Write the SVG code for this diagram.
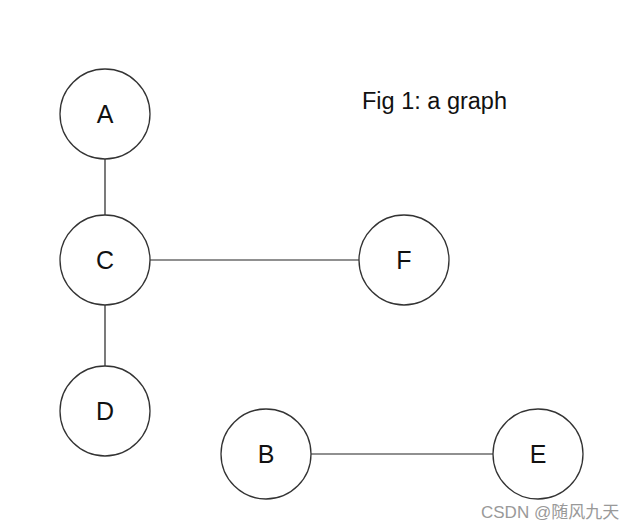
<svg xmlns="http://www.w3.org/2000/svg" width="632" height="530" viewBox="0 0 632 530">
<style>
.n circle{fill:#fff;stroke:#333;stroke-width:1.3}
.n text{font-family:"Liberation Sans",Arial,sans-serif;font-size:25px;fill:#111;text-anchor:middle}
.e line{stroke:#222;stroke-width:1.2}
</style>
<rect width="632" height="530" fill="#fff"/>
<g id="edges" class="e">
<line x1="105" y1="159" x2="105" y2="215"/>
<line x1="150" y1="260" x2="359" y2="260"/>
<line x1="105" y1="305" x2="105" y2="366"/>
<line x1="311" y1="454" x2="493" y2="454"/>
</g>
<g id="A" class="n"><circle cx="105" cy="114" r="45"/><text x="105" y="123">A</text></g>
<g id="C" class="n"><circle cx="105" cy="260" r="45"/><text x="105" y="269">C</text></g>
<g id="D" class="n"><circle cx="105" cy="411" r="45"/><text x="105" y="420">D</text></g>
<g id="F" class="n"><circle cx="404" cy="260" r="45"/><text x="404" y="269">F</text></g>
<g id="B" class="n"><circle cx="266" cy="454" r="45"/><text x="266" y="463">B</text></g>
<g id="E" class="n"><circle cx="538" cy="454" r="45"/><text x="538" y="463">E</text></g>
<text x="362" y="109" font-family="Liberation Sans,Arial,sans-serif" font-size="23.5" fill="#111">Fig 1: a graph</text>
<text x="481" y="518" font-family="Liberation Sans,'Noto Sans CJK SC',sans-serif" font-size="17" fill="#999">CSDN @随风九天</text>
</svg>
